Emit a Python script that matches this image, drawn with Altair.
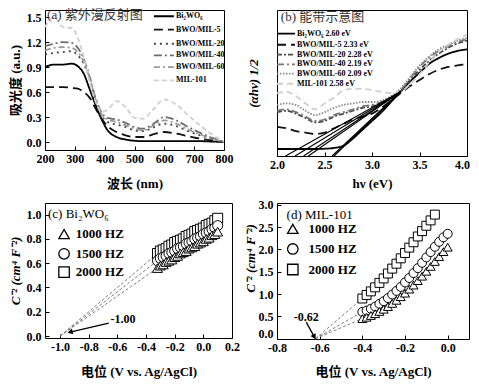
import altair as alt
import pandas as pd

FONT = "Liberation Serif, Noto Sans CJK SC"
MINUS_FIX = "replace(datum.label, '\u2212', '-')"

# ---------------- panel (a) UV-vis ----------------
a_series = ["Bi₂WO₆", "BWO/MIL-5", "BWO/MIL-20", "BWO/MIL-40", "BWO/MIL-60", "MIL-101"]
a_colors = ["#000000", "#111111", "#444444", "#6e6e6e", "#9a9a9a", "#cfcfcf"]
a_dashes = [[1, 0], [9, 5], [2, 4], [8, 3, 2, 3], [6, 3, 2, 3], [5, 3]]
a_wl = [200, 230, 260, 290, 310, 330, 350, 370, 390, 410, 440, 470, 500, 530, 560, 600, 640, 680, 720, 760, 800]
a_bwo = [0.90, 0.93, 0.93, 0.94, 0.91, 0.82, 0.63, 0.44, 0.27, 0.14, 0.06, 0.03, 0.015, 0.01, 0.01, 0.01, 0.01, 0.01, 0.01, 0.005, 0.0]
a_mil5 = [0.66, 0.66, 0.66, 0.65, 0.64, 0.60, 0.53, 0.40, 0.28, 0.19, 0.12, 0.08, 0.06, 0.06, 0.09, 0.12, 0.10, 0.07, 0.04, 0.02, 0.0]
a_mil20 = [1.05, 1.07, 1.08, 1.09, 1.04, 0.94, 0.75, 0.50, 0.32, 0.24, 0.21, 0.18, 0.14, 0.13, 0.17, 0.22, 0.19, 0.13, 0.08, 0.04, 0.0]
a_mil40 = [1.15, 1.18, 1.20, 1.19, 1.13, 1.00, 0.78, 0.52, 0.35, 0.29, 0.27, 0.23, 0.18, 0.16, 0.21, 0.30, 0.26, 0.18, 0.11, 0.05, 0.0]
a_mil60 = [1.10, 1.13, 1.14, 1.13, 1.08, 0.96, 0.76, 0.51, 0.33, 0.27, 0.24, 0.20, 0.16, 0.14, 0.19, 0.26, 0.22, 0.15, 0.09, 0.04, 0.0]
a_mil101 = [1.38, 1.50, 1.38, 1.37, 1.25, 1.02, 0.72, 0.48, 0.36, 0.39, 0.49, 0.42, 0.29, 0.28, 0.38, 0.51, 0.45, 0.32, 0.20, 0.09, 0.01]
a_leg_y = [1.51, 1.35, 1.18, 1.04, 0.90, 0.74]
a_leg_x, a_leg_x2, a_leg_tx = 565, 632, 639
a_label = "(a) 紫外漫反射图"
a_label_pos = (207, 1.52)

# ---------------- panel (b) Tauc ----------------
b_series = a_series
b_names = ["Bi₂WO₆ 2.60 eV", "BWO/MIL-5 2.33 eV", "BWO/MIL-20 2.28 eV",
           "BWO/MIL-40 2.19 eV", "BWO/MIL-60 2.09 eV", "MIL-101 2.58 eV"]
b_colors = ["#000000", "#111111", "#4a4a4a", "#777777", "#8a8a8a", "#cfcfcf"]
b_dashes = [[1, 0], [9, 5], [5, 2, 2, 2], [7, 3, 2, 3], [1.5, 1.5], [6, 4]]
b_eg = [2.60, 2.33, 2.28, 2.19, 2.09, 2.58]
b_e = [2.0, 2.1, 2.2, 2.3, 2.4, 2.5, 2.6, 2.7, 2.8, 2.9, 3.0, 3.1, 3.2, 3.3, 3.4, 3.5, 3.6, 3.7, 3.8, 3.9, 4.0]
b_bwo = [0.048, 0.048, 0.048, 0.048, 0.048, 0.05, 0.055, 0.07, 0.12, 0.18, 0.24, 0.30, 0.37, 0.44, 0.51, 0.57, 0.63, 0.67, 0.70, 0.72, 0.73]
b_mil5 = [0.20, 0.19, 0.17, 0.16, 0.15, 0.16, 0.19, 0.22, 0.25, 0.27, 0.29, 0.33, 0.38, 0.43, 0.48, 0.52, 0.56, 0.59, 0.61, 0.62, 0.63]
b_mil20 = [0.30, 0.31, 0.29, 0.26, 0.23, 0.24, 0.27, 0.29, 0.31, 0.33, 0.34, 0.36, 0.39, 0.44, 0.52, 0.59, 0.65, 0.70, 0.74, 0.77, 0.79]
b_mil40 = [0.31, 0.32, 0.30, 0.27, 0.24, 0.25, 0.28, 0.30, 0.32, 0.34, 0.35, 0.37, 0.40, 0.45, 0.53, 0.61, 0.67, 0.72, 0.75, 0.78, 0.80]
b_mil60 = [0.35, 0.36, 0.35, 0.31, 0.28, 0.30, 0.33, 0.35, 0.36, 0.37, 0.37, 0.38, 0.41, 0.46, 0.54, 0.62, 0.68, 0.73, 0.76, 0.79, 0.81]
b_mil101 = [0.43, 0.44, 0.41, 0.36, 0.32, 0.36, 0.40, 0.45, 0.46, 0.46, 0.45, 0.44, 0.43, 0.44, 0.49, 0.56, 0.64, 0.71, 0.76, 0.80, 0.83]
b_tan_end = (3.30, 0.44)
b_leg_y = [0.838, 0.762, 0.694, 0.628, 0.564, 0.495]
b_leg_x, b_leg_x2, b_leg_tx = 2.0, 2.19, 2.21
b_label = "(b) 能带示意图"
b_label_pos = (2.04, 0.952)

# ---------------- panel (c) Mott-Schottky Bi2WO6 ----------------
freqs = ["1000 HZ", "1500 HZ", "2000 HZ"]
shapes = ["triangle-up", "circle", "square"]
c_v = [-0.32, -0.30, -0.28, -0.26, -0.24, -0.22, -0.20, -0.18, -0.16, -0.14, -0.12,
       -0.10, -0.08, -0.06, -0.04, -0.02, 0.0, 0.02, 0.04, 0.06, 0.08, 0.10]
c_2000 = [0.68, 0.70, 0.71, 0.72, 0.74, 0.75, 0.77, 0.78, 0.79, 0.80, 0.82, 0.83, 0.84, 0.86, 0.87, 0.88, 0.89, 0.91, 0.92, 0.93, 0.95, 0.97]
c_1500 = [0.62, 0.64, 0.65, 0.66, 0.68, 0.69, 0.70, 0.72, 0.73, 0.74, 0.76, 0.77, 0.78, 0.80, 0.81, 0.82, 0.84, 0.85, 0.86, 0.88, 0.89, 0.91]
c_1000 = [0.56, 0.58, 0.59, 0.61, 0.62, 0.63, 0.65, 0.66, 0.68, 0.69, 0.70, 0.72, 0.73, 0.74, 0.76, 0.77, 0.78, 0.80, 0.81, 0.83, 0.84, 0.86]
c_fb = -1.00
c_leg_y = [0.84, 0.677, 0.527]
c_leg_x, c_leg_tx = -0.972, -0.89
c_label = "(c) Bi₂WO₆"
c_label_pos = (-1.084, 1.006)
c_arrow = (-0.66, 0.107, -0.93, 0.033)
c_arrow_txt = ("-1.00", -0.56, 0.14)

# ---------------- panel (d) Mott-Schottky MIL-101 ----------------
d_v_sq = [-0.40, -0.38, -0.36, -0.34, -0.32, -0.30, -0.28, -0.26, -0.24, -0.22, -0.20,
          -0.18, -0.16, -0.14, -0.12, -0.10, -0.08, -0.06]
d_2000 = [0.90, 0.98, 1.06, 1.15, 1.25, 1.35, 1.46, 1.57, 1.68, 1.80, 1.92, 2.04, 2.16, 2.29, 2.41, 2.53, 2.65, 2.78]
d_v = [-0.40, -0.38, -0.36, -0.34, -0.32, -0.30, -0.28, -0.26, -0.24, -0.22, -0.20,
       -0.18, -0.16, -0.14, -0.12, -0.10, -0.08, -0.06, -0.04, -0.02, 0.0]
d_1500 = [0.60, 0.63, 0.67, 0.72, 0.78, 0.84, 0.91, 0.99, 1.07, 1.16, 1.26, 1.36, 1.47, 1.58, 1.70, 1.82, 1.94, 2.06, 2.17, 2.27, 2.35]
d_1000 = [0.45, 0.48, 0.52, 0.56, 0.61, 0.66, 0.72, 0.79, 0.86, 0.94, 1.02, 1.11, 1.20, 1.30, 1.40, 1.51, 1.62, 1.73, 1.84, 1.95, 2.05]
d_fb = -0.62
d_leg_y = [2.46, 2.01, 1.55]
d_leg_x, d_leg_tx = -0.726, -0.652
d_label = "(d) MIL-101"
d_label_pos = (-0.755, 2.76)
d_arrow = (-0.663, 0.37, -0.625, 0.04)
d_arrow_txt = ("-0.62", -0.663, 0.485)


# ---------------- helpers ----------------
def long_df(xs, names, cols):
    rows = []
    for n, ys in zip(names, cols):
        for x, y in zip(xs, ys):
            rows.append({"x": x, "y": y, "s": n})
    return pd.DataFrame(rows)


def xaxis(values, fmt, title, h, title_y, **kw):
    return alt.Axis(values=values, format=fmt, title=title, domain=False, ticks=False,
                    grid=True, gridColor="black", gridOpacity=1, gridWidth=1,
                    gridDash=[0, h - 4, 4, 1000], labelFlush=False, labelOverlap=False,
                    labelExpr=MINUS_FIX,
                    labelFont=FONT, labelFontSize=12, labelFontWeight="bold", labelColor="black",
                    labelPadding=3, titleFont=FONT, titleFontSize=13, titleFontWeight="bold",
                    titleColor="black", titleBaseline="middle", titleY=title_y, **kw)


def yaxis(values, fmt, title, title_x, **kw):
    return alt.Axis(values=values, format=fmt, title=title, domain=False, ticks=False,
                    grid=True, gridColor="black", gridOpacity=1, gridWidth=1,
                    gridDash=[4, 2000], labelFlush=False, labelOverlap=False,
                    labelExpr=MINUS_FIX,
                    labelFont=FONT, labelFontSize=12, labelFontWeight="bold", labelColor="black",
                    labelPadding=4, titleFont=FONT, titleFontSize=13, titleFontWeight="bold",
                    titleColor="black", titleBaseline="middle", titleX=title_x, **kw)


def txt(df, X, Y, size, weight="bold", color="black", align="left"):
    return alt.Chart(df).mark_text(align=align, baseline="middle", font=FONT, fontSize=size,
                                   fontWeight=weight, color=color).encode(x=X, y=Y, text="t:N")


# ---------------- panel (a) ----------------
a_df = long_df(a_wl, a_series, [a_bwo, a_mil5, a_mil20, a_mil40, a_mil60, a_mil101])
aX = alt.X("x:Q", scale=alt.Scale(domain=[200, 800], nice=False, zero=False),
           axis=xaxis([200, 300, 400, 500, 600, 700, 800], "d", "波长 (nm)", 140, 33))
aY = alt.Y("y:Q", scale=alt.Scale(domain=[-0.096, 1.585], nice=False, zero=False),
           axis=yaxis([0, 0.3, 0.6, 0.9, 1.2, 1.5], ".1f", "吸光度 (a.u.)", -30))
aC = alt.Color("s:N", scale=alt.Scale(domain=a_series, range=a_colors), legend=None)
aD = alt.StrokeDash("s:N", scale=alt.Scale(domain=a_series, range=a_dashes), legend=None)
a_lines = alt.Chart(a_df).mark_line(strokeWidth=1.8, interpolate="monotone", clip=True).encode(
    x=aX, y=aY, color=aC, strokeDash=aD)
a_leg = pd.DataFrame({"s": a_series, "x": [a_leg_x] * 6, "x2": [a_leg_x2] * 6, "y": a_leg_y})
a_leg_lines = alt.Chart(a_leg).mark_rule(strokeWidth=1.8).encode(x=aX, x2="x2:Q", y=aY, color=aC, strokeDash=aD)
a_leg_txt = txt(pd.DataFrame({"x": [a_leg_tx] * 6, "y": a_leg_y, "t": a_series}), aX, aY, 8)
a_lab = txt(pd.DataFrame({"x": [a_label_pos[0]], "y": [a_label_pos[1]], "t": [a_label]}), aX, aY, 13, "normal", "#333333")
pa = alt.layer(a_lines, a_leg_lines, a_leg_txt, a_lab).properties(width=179, height=140)

# ---------------- panel (b) ----------------
b_df = long_df(b_e, b_series, [b_bwo, b_mil5, b_mil20, b_mil40, b_mil60, b_mil101])
bX = alt.X("x:Q", scale=alt.Scale(domain=[2.0, 4.0], nice=False, zero=False),
           axis=xaxis([2.0, 2.5, 3.0, 3.5, 4.0], ".1f", "hν (eV)", 146, 27,
                      labelOffset={"condition": {"test": "datum.value == 4", "value": -5}, "value": 0}))
bY = alt.Y("y:Q", scale=alt.Scale(domain=[0, 1], nice=False, zero=False),
           axis=alt.Axis(labels=False, ticks=False, grid=False, domain=False, title="(αhν)   1/2",
                         titleFont=FONT, titleFontSize=13, titleFontWeight="bold", titleFontStyle="italic",
                         titleColor="black", titleBaseline="middle", titleX=-24))
bC = alt.Color("s:N", scale=alt.Scale(domain=b_series, range=b_colors), legend=None)
bD = alt.StrokeDash("s:N", scale=alt.Scale(domain=b_series, range=b_dashes), legend=None)
b_lines = alt.Chart(b_df).mark_line(strokeWidth=1.8, interpolate="monotone", clip=True).encode(
    x=bX, y=bY, color=bC, strokeDash=bD)
b_tan = alt.Chart(pd.DataFrame({"x": b_eg, "y": [0] * 6, "x2": [b_tan_end[0]] * 6, "y2": [b_tan_end[1]] * 6})
                  ).mark_rule(color="black", strokeWidth=1.1).encode(x=bX, y=bY, x2="x2:Q", y2="y2:Q")
b_leg = pd.DataFrame({"s": b_series, "x": [b_leg_x] * 6, "x2": [b_leg_x2] * 6, "y": b_leg_y})
b_leg_lines = alt.Chart(b_leg).mark_rule(strokeWidth=1.8).encode(x=bX, x2="x2:Q", y=bY, color=bC, strokeDash=bD)
b_leg_txt = txt(pd.DataFrame({"x": [b_leg_tx] * 6, "y": b_leg_y, "t": b_names}), bX, bY, 8)
b_lab = txt(pd.DataFrame({"x": [b_label_pos[0]], "y": [b_label_pos[1]], "t": [b_label]}), bX, bY, 13, "normal", "#333333")
pb = alt.layer(b_lines, b_tan, b_leg_lines, b_leg_txt, b_lab).properties(width=190, height=146)


# ---------------- panels (c)/(d) ----------------
def ms_panel(X, Y, series, fb, leg_x, leg_tx, leg_y, label, label_pos, arrow, arrow_txt, angle,
             size, w, h):
    rows = []
    for f, (vs, ys) in series:
        for v, y in zip(vs, ys):
            rows.append({"x": v, "y": y, "f": f})
    df = pd.DataFrame(rows)
    S = alt.Shape("f:N", scale=alt.Scale(domain=freqs, range=shapes), legend=None)
    starts = {f: (vs[0], ys[0]) for f, (vs, ys) in series}
    ext = pd.DataFrame({"x": [fb] * 3, "y": [0] * 3,
                        "x2": [starts[f][0] for f in freqs], "y2": [starts[f][1] for f in freqs]})
    ext_l = alt.Chart(ext).mark_rule(color="#808080", strokeWidth=1, strokeDash=[3, 2]).encode(
        x=X, y=Y, x2="x2:Q", y2="y2:Q")
    pts = alt.Chart(df).mark_point(filled=True, fill="white", stroke="black", strokeWidth=1,
                                   size=size, opacity=1).encode(x=X, y=Y, shape=S)
    leg = pd.DataFrame({"x": [leg_x] * 3, "y": leg_y, "f": freqs})
    leg_p = alt.Chart(leg).mark_point(filled=True, fill="white", stroke="black", strokeWidth=1.3,
                                      size=110, opacity=1).encode(x=X, y=Y, shape=S)
    leg_t = txt(pd.DataFrame({"x": [leg_tx] * 3, "y": leg_y, "t": freqs}), X, Y, 13)
    lab = txt(pd.DataFrame({"x": [label_pos[0]], "y": [label_pos[1]], "t": [label]}), X, Y, 13, "normal")
    arr = alt.Chart(pd.DataFrame({"x": [arrow[0]], "y": [arrow[1]], "x2": [arrow[2]], "y2": [arrow[3]]})
                    ).mark_rule(color="black", strokeWidth=1.3).encode(x=X, y=Y, x2="x2:Q", y2="y2:Q")
    head = alt.Chart(pd.DataFrame({"x": [arrow[2]], "y": [arrow[3]]})).mark_point(
        shape="triangle-up", filled=True, color="black", size=35, angle=angle, opacity=1).encode(x=X, y=Y)
    at = txt(pd.DataFrame({"x": [arrow_txt[1]], "y": [arrow_txt[2]], "t": [arrow_txt[0]]}), X, Y, 12, align="center")
    return alt.layer(ext_l, pts, leg_p, leg_t, lab, arr, head, at).properties(width=w, height=h)


cX = alt.X("x:Q", scale=alt.Scale(domain=[-1.105, 0.2], nice=False, zero=False),
           axis=xaxis([-1.0, -0.8, -0.6, -0.4, -0.2, 0.0, 0.2], ".1f", "电位 (V vs. Ag/AgCl)", 135, 33))
cY = alt.Y("y:Q", scale=alt.Scale(domain=[-0.016, 1.096], nice=False, zero=False),
           axis=yaxis([0, 0.2, 0.4, 0.6, 0.8, 1.0], ".1f", "C⁻² (cm⁴ F⁻²)", -30, titleFontStyle="italic"))
pc = ms_panel(cX, cY, [("2000 HZ", (c_v, c_2000)), ("1500 HZ", (c_v, c_1500)), ("1000 HZ", (c_v, c_1000))],
              c_fb, c_leg_x, c_leg_tx, c_leg_y, c_label, c_label_pos, c_arrow, c_arrow_txt, 257, 100, 187, 135)

dX = alt.X("x:Q", scale=alt.Scale(domain=[-0.8, 0.1], nice=False, zero=False),
           axis=xaxis([-0.8, -0.6, -0.4, -0.2, 0.0], ".1f", "电位 (V vs. Ag/AgCl)", 136, 32))
dY = alt.Y("y:Q", scale=alt.Scale(domain=[-0.007, 3.04], nice=False, zero=False),
           axis=yaxis([0, 0.5, 1.0, 1.5, 2.0, 2.5, 3.0], ".1f", "C⁻² (cm⁴ F⁻²)", -27,
                      titleFontStyle="italic", titleY=55,
                      labelOffset={"condition": {"test": "datum.value == 0", "value": -5}, "value": 0}))
pd_ = ms_panel(dX, dY, [("2000 HZ", (d_v_sq, d_2000)), ("1500 HZ", (d_v, d_1500)), ("1000 HZ", (d_v, d_1000))],
               d_fb, d_leg_x, d_leg_tx, d_leg_y, d_label, d_label_pos, d_arrow, d_arrow_txt, 151, 80, 192, 136)

chart = alt.concat(pa, pb, pc, pd_, columns=2, spacing={"row": 47, "column": 45},
                   bounds="flush", align="each").resolve_scale(
    color="independent", strokeDash="independent", shape="independent",
    x="independent", y="independent"
).configure_view(stroke="black", strokeWidth=1).properties(
    padding={"left": 0, "top": 0, "right": 0, "bottom": 0})

chart.save("out.html", embed_options={"renderer": "svg", "actions": False})
